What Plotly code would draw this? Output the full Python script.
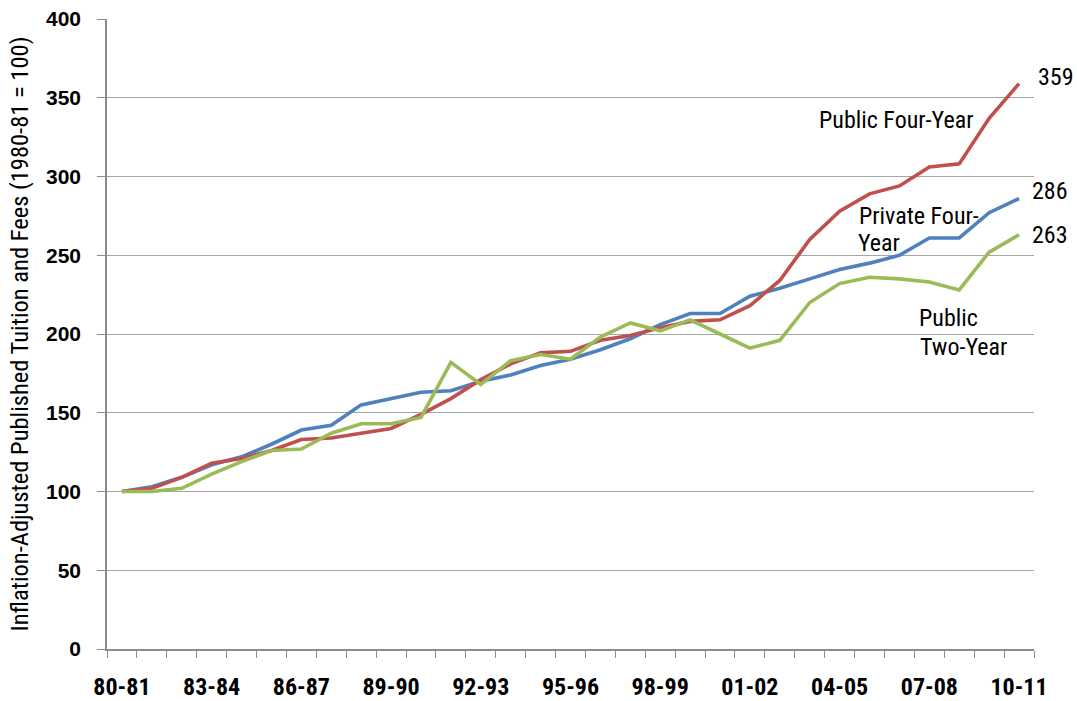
import plotly.graph_objects as go

# Academic years, 1980-81 through 2010-11
years = ["80-81", "81-82", "82-83", "83-84", "84-85", "85-86", "86-87", "87-88",
         "88-89", "89-90", "90-91", "91-92", "92-93", "93-94", "94-95", "95-96",
         "96-97", "97-98", "98-99", "99-00", "00-01", "01-02", "02-03", "03-04",
         "04-05", "05-06", "06-07", "07-08", "08-09", "09-10", "10-11"]

# Inflation-adjusted published tuition and fees, indexed to 1980-81 = 100
private_four_year = [100, 103, 109, 117, 122, 130, 139, 142, 155, 159, 163, 164,
                     170, 174, 180, 184, 190, 197, 206, 213, 213, 224, 229, 235,
                     241, 245, 250, 261, 261, 277, 286]
public_four_year = [100, 102, 109, 118, 121, 126, 133, 134, 137, 140, 149, 159,
                    171, 181, 188, 189, 196, 199, 204, 208, 209, 218, 234, 260,
                    278, 289, 294, 306, 308, 337, 359]
public_two_year = [100, 100, 102, 111, 119, 126, 127, 137, 143, 143, 147, 182,
                   168, 183, 187, 184, 198, 207, 202, 209, 200, 191, 196, 220,
                   232, 236, 235, 233, 228, 252, 263]

tick_every = 3
y_ticks = [0, 50, 100, 150, 200, 250, 300, 350, 400]

BLUE = "#4F81BD"
RED = "#C0504D"
GREEN = "#9BBB59"
NARROW = "Liberation Sans Narrow, Arial Narrow, Roboto Condensed, DejaVu Sans Condensed, sans-serif"
WIDE = "Liberation Sans, Arial, sans-serif"

x = list(range(len(years)))

fig = go.Figure()
for name, vals, color in [("Private Four-Year", private_four_year, BLUE),
                          ("Public Four-Year", public_four_year, RED),
                          ("Public Two-Year", public_two_year, GREEN)]:
    fig.add_trace(go.Scatter(x=x, y=vals, mode="lines", name=name,
                             line=dict(color=color, width=3.6),
                             hoverinfo="skip"))

# End-of-series value labels
end_labels = [(public_four_year, 17, 7), (private_four_year, 11, 8), (public_two_year, 11, 0)]
for vals, xs, ys in end_labels:
    fig.add_annotation(x=x[-1], y=vals[-1], text=str(vals[-1]), showarrow=False,
                       xanchor="left", yanchor="middle", xshift=xs, yshift=ys,
                       font=dict(family=NARROW, size=24, color="black"))

# Series names placed next to the lines
series_text = [
    ("Public Four-Year", 23.23, 335.9),
    ("Private Four-", 24.57, 275.2),
    ("Year", 24.55, 257.6),
    ("Public", 26.58, 210.2),
    ("Two-Year", 26.62, 191.9),
]
for txt, tx, ty in series_text:
    fig.add_annotation(x=tx, y=ty, text=txt, showarrow=False,
                       xanchor="left", yanchor="middle",
                       font=dict(family=NARROW, size=24, color="black"))

fig.update_layout(
    width=1077, height=701,
    margin=dict(l=107, r=43, t=19, b=52),
    paper_bgcolor="white", plot_bgcolor="white",
    showlegend=False,
)

fig.update_xaxes(
    automargin=False,
    range=[-0.5, len(years) - 0.5],
    tickmode="array",
    tickvals=x[::tick_every],
    ticktext=years[::tick_every],
    ticks="", showgrid=False, zeroline=False,
    showline=True, linecolor="#8C8C8C", linewidth=1.5,
    tickfont=dict(family=NARROW, size=24, color="black", weight="bold"),
    ticklabelstandoff=15,
    minor=dict(tickmode="linear", tick0=-0.5, dtick=1, ticks="outside",
               ticklen=7, tickcolor="#8C8C8C", tickwidth=1.2, showgrid=False),
)

fig.update_yaxes(
    automargin=False,
    range=[0, 400],
    tickmode="array", tickvals=y_ticks,
    ticks="outside", ticklen=8, tickcolor="#8C8C8C", tickwidth=1.2,
    showgrid=True, gridcolor="#A6A6A6", gridwidth=1.3,
    zeroline=False,
    showline=True, linecolor="#8C8C8C", linewidth=1.5,
    tickfont=dict(family=WIDE, size=21, color="black", weight="bold"),
    ticklabelstandoff=12,
    title=dict(text="Inflation-Adjusted Published Tuition and Fees (1980-81 = 100)",
               font=dict(family=NARROW, size=24.5, color="black"), standoff=10),
)

fig.write_html("out.html")
